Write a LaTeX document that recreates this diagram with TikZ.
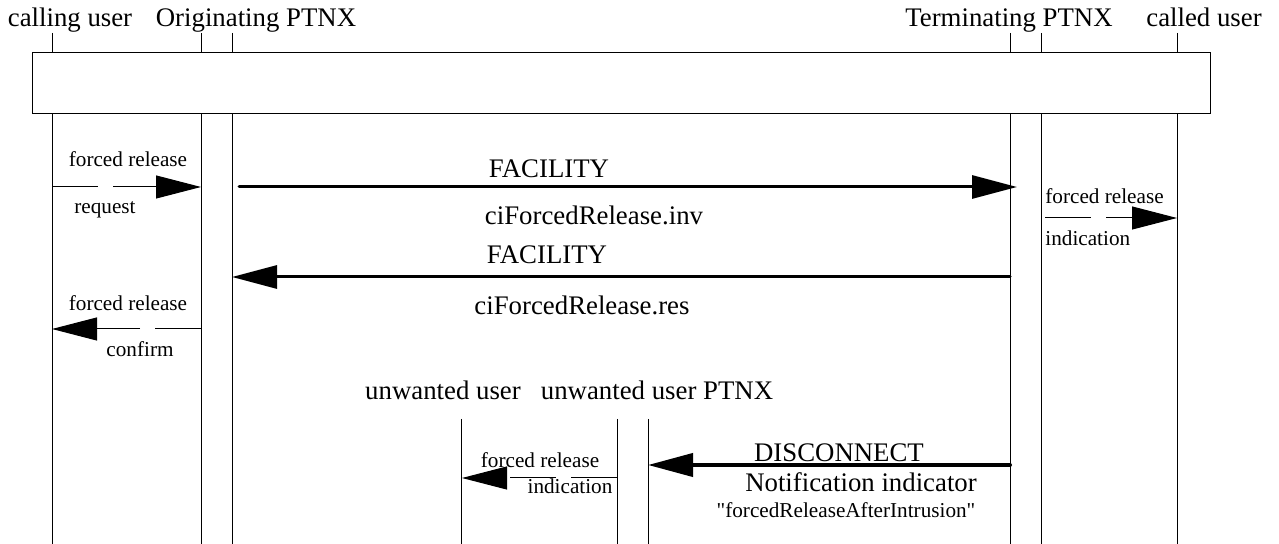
\documentclass[tikz,border=0pt]{standalone}
\usepackage{fontspec}
\setmainfont{Liberation Serif}
\usetikzlibrary{arrows.meta}
\newcommand{\bigtxt}{\fontsize{13.4}{16}\selectfont}
\newcommand{\smalltxt}{\fontsize{10.6}{12}\selectfont}
\tikzstyle{lifeline} = [line width=0.5pt]
\tikzstyle{head} = [inner sep=0, anchor=base, font=\bigtxt]
\tikzstyle{lbl} = [inner sep=0, anchor=base, font=\smalltxt]
\tikzstyle{msg} = [-{Triangle[length=22.5pt,width=11.5pt]}, line width=0.5pt, dash pattern=on 23pt off 7.5pt]
\tikzstyle{bigmsg} = [-{Triangle[length=22.5pt,width=11.5pt]}, line width=1.5pt, line cap=round]

\begin{document}
\begin{tikzpicture}[x=0.5pt,y=-0.5pt]
        \useasboundingbox (0,0) rectangle (1279,544);
        \foreach \n/\x in {cu/52,oa/201,ob/232,ta/1010,tb/1041,cd/1177}
        {\coordinate (\n) at (\x,33); \coordinate (\n-end) at (\x,544);
         \draw[lifeline] (\n) -- (\n-end);}
        \foreach \n/\x in {uu/461,ua/617,ub/648}
        {\coordinate (\n) at (\x,419); \coordinate (\n-end) at (\x,544);
         \draw[lifeline] (\n) -- (\n-end);}

        \node[draw, fill=white, line width=0.5pt, inner sep=0, minimum width=589pt, minimum height=30.5pt] (bar) at (621,83.5) {};

        \node[head] (cuser) at (70,27) {calling user};
        \node[head] (orig) at (256,27) {Originating PTNX};
        \node[head] (term) at (1009,27) {Terminating PTNX};
        \node[head] (cduser) at (1204,27) {called user};
        \node[head] (uwuser) at (443,400) {unwanted user};
        \node[head] (uwptnx) at (657,400) {unwanted user PTNX};

        \node[lbl] (reqa) at (128,167) {forced release};
        \node[lbl] (reqb) at (105,214) {request};
        \node[lbl] (cfa) at (128,311) {forced release};
        \node[lbl] (cfb) at (140,357) {confirm};
        \node[lbl, anchor=base west] (inda) at (1045,204) {forced release};
        \node[lbl, anchor=base west] (indb) at (1045,246) {indication};
        \node[lbl] (uia) at (540,468) {forced release};
        \node[lbl] (uib) at (570,494) {indication};
        \node[head] (fac1) at (549,178) {FACILITY};
        \node[head] (inv) at (594,225) {ciForcedRelease.inv};
        \node[head] (fac2) at (547,264) {FACILITY};
        \node[head] (res) at (582,315) {ciForcedRelease.res};
        \node[head] (disc) at (839,462) {DISCONNECT};
        \node[head] (notif) at (861,492) {Notification indicator};
        \node[lbl] (frai) at (846,517) {\textquotedbl forcedReleaseAfterIntrusion\textquotedbl};

        \coordinate (req-s) at (52,187);
        \coordinate (req-e) at (201,187);
        \coordinate (cf-s) at (201,329);
        \coordinate (cf-e) at (52,329);
        \coordinate (ind-s) at (1045,218);
        \coordinate (ind-e) at (1177,218);
        \coordinate (ui-s) at (617,478);
        \coordinate (ui-e) at (462,478);
        \coordinate (f1-s) at (239,187);
        \coordinate (f1-e) at (1017,187);
        \coordinate (f2-s) at (1010,277);
        \coordinate (f2-e) at (232,277);
        \coordinate (dc-s) at (1010,465);
        \coordinate (dc-e) at (648,465);

        \draw[msg] (req-s) -- (req-e);
        \draw[msg] (cf-s) -- (cf-e);
        \draw[msg] (ind-s) -- (ind-e);
        \draw[msg] (ui-s) -- (ui-e);
        \draw[bigmsg] (f1-s) -- (f1-e);
        \draw[bigmsg] (f2-s) -- (f2-e);
        \draw[bigmsg, line width=2pt] (dc-s) -- (dc-e);
\end{tikzpicture}
\end{document}
